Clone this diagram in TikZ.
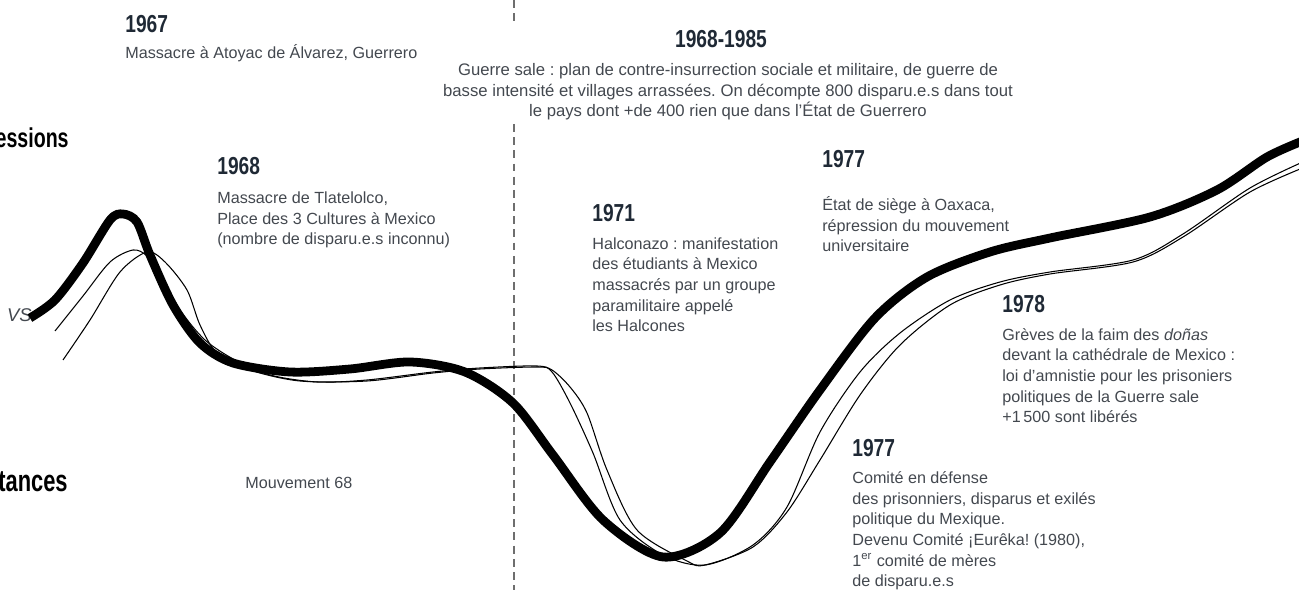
\documentclass[tikz,border=0pt]{standalone}
\usepackage{fontspec}
\setmainfont{Liberation Sans}
\newfontfamily\yearfont[FakeStretch=0.78]{Liberation Sans}
\newfontfamily\sidefont[FakeStretch=0.72]{Liberation Sans}
\usepackage{xcolor}
\usetikzlibrary{positioning}
\definecolor{textgrey}{HTML}{43484F}
\definecolor{yearblue}{HTML}{1F2935}
\definecolor{dashgrey}{HTML}{6E6E6E}
\frenchspacing

\begin{document}
\begin{tikzpicture}[x=0.02cm,y=-0.02cm]
    \tikzstyle{year_lbl}=[anchor=base west,inner sep=0pt,font=\yearfont\bfseries\fontsize{14}{16}\selectfont,text=yearblue]
    % multi-line texts: base = baseline of the last line
    \tikzstyle{event_txt}=[anchor=base west,inner sep=0pt,align=left,font=\fontsize{9.2}{11.8}\selectfont,text=textgrey]
    \tikzstyle{side_lbl}=[anchor=base east,inner sep=0pt,font=\sidefont\bfseries\fontsize{15.5}{18}\selectfont,text=black]
    \tikzstyle{thick_curve}=[line width=5pt,black]
    \tikzstyle{thin_curve}=[line width=0.6pt,black]
    \tikzstyle{dash_line}=[line width=0.75pt,dashgrey,dash pattern=on 4.5pt off 3pt]
    \useasboundingbox (0,0) rectangle (1299,590);

    % dashed separator
    \coordinate (dash_top) at (514,0);
    \coordinate (dash_a)   at (514,22);
    \coordinate (dash_b)   at (514,124);
    \coordinate (dash_bot) at (514,590);
    \draw[dash_line] (dash_top) -- (dash_a);
    \draw[dash_line] (dash_b) -- (dash_bot);

    % side labels
    \node[side_lbl] (repr) at (69,148) {essions};
    \node[side_lbl,font=\sidefont\bfseries\fontsize{17.3}{18}\selectfont] (resist) at (68,492) {tances};
    \node[anchor=base east,inner sep=0pt,font=\itshape\fontsize{10.5}{12}\selectfont,text=textgrey] (vs) at (32,322) {VS};

    % curves
    \draw[thin_curve] plot[smooth,tension=0.5] coordinates {(55,331) (83,296) (110,262) (133,250) (147,256) (160,275) (180,310) (205,340) (235,360) (270,375) (317,382) (367,380) (433,372) (480,368) (537,366) (552,372) (570,403) (593,453) (620,520) (663,555) (705,565) (753,545) (787,507) (820,432) (860,372) (900,333) (950,300) (1000,282) (1050,272) (1133,260) (1183,234) (1250,188) (1305,161)};
    \draw[thin_curve] plot[smooth,tension=0.5] coordinates {(63,360) (90,320) (120,272) (147,252) (165,262) (187,290) (200,325) (217,353) (250,370) (300,381) (367,381) (433,373) (480,369) (537,367) (552,370) (570,387) (587,413) (607,470) (637,530) (687,561) (705,565) (753,547) (787,512) (820,460) (860,395) (900,345) (950,305) (1000,285) (1050,274) (1133,262) (1183,237) (1250,192) (1305,167)};
    \draw[thick_curve] plot[smooth,tension=0.5] coordinates {(30,318) (55,300) (83,263) (110,220) (123,214) (137,222) (150,255) (173,305) (200,343) (233,363) (290,372) (350,369) (410,362) (465,372) (513,403) (553,455) (603,520) (663,557) (720,533) (770,462) (820,390) (875,318) (927,277) (990,252) (1050,238) (1150,217) (1217,190) (1267,157) (1305,140)};

    % events
    \node[year_lbl]  (y1967) at (125,33) {1967};
    \node[event_txt] (e1967) at (125,59) {Massacre à Atoyac de Álvarez, Guerrero};

    \node[year_lbl,anchor=base]  (y6885) at (721,48) {1968-1985};
    \node[event_txt,anchor=base,align=center,font=\fontsize{9.5}{11.8}\selectfont] (e6885) at (728,117) {Guerre sale : plan de contre-insurrection sociale et militaire, de guerre de\\basse intensité et villages arrassées. On décompte 800 disparu.e.s dans tout\\le pays dont +de 400 rien que dans l’État de Guerrero};

    \node[year_lbl]  (y1968) at (217,175) {1968};
    \node[event_txt] (e1968) at (217,245) {Massacre de Tlatelolco,\\Place des 3 Cultures à Mexico\\(nombre de disparu.e.s inconnu)};

    \node[event_txt] (m68) at (245,489) {Mouvement 68};

    \node[year_lbl]  (y1971) at (592,222) {1971};
    \node[event_txt] (e1971) at (592,332) {Halconazo : manifestation\\des étudiants à Mexico\\massacrés par un groupe\\paramilitaire appelé\\les Halcones};

    \node[year_lbl]  (y1977a) at (822,168) {1977};
    \node[event_txt] (e1977a) at (822,252) {État de siège à Oaxaca,\\répression du mouvement\\universitaire};

    \node[year_lbl]  (y1978) at (1002,313) {1978};
    \node[event_txt] (e1978) at (1002,423) {Grèves de la faim des \textit{doñas}\\devant la cathédrale de Mexico :\\loi d’amnistie pour les prisoniers\\politiques de la Guerre sale\\+1\,500 sont libérés};

    \node[year_lbl]  (y1977b) at (852,457) {1977};
    \node[event_txt] (e1977b) at (852,587) {Comité en défense\\des prisonniers, disparus et exilés\\politique du Mexique.\\Devenu Comité ¡Eurêka! (1980),\\1\textsuperscript{er} comité de mères\\de disparu.e.s};
\end{tikzpicture}
\end{document}
